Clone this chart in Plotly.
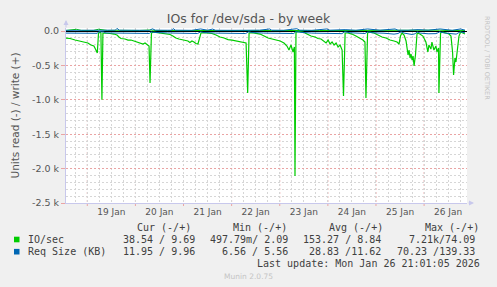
import pandas as pd
import plotly.graph_objects as go

# ---------------- data (hours relative to 19 Jan 2026 00:00) ----------------
base_time = "2026-01-19 00:00"
range_hours = [-10.62, 189.4]

io_read_h = [-10.6,-8.6,-6.1,-3.6,-1.6,0.3,1.8,3.3,4.3,5.0,5.6,6.3,6.8,7.3,7.8,9.3,11.3,13.3,14.8,15.8,
             16.8,18.8,20.3,21.8,23.3,24.8,26.3,27.8,28.8,29.8,30.8,31.3,32.0,33.3,35.3,37.3,39.3,41.3,42.7,44.2,
             45.7,47.2,48.7,50.2,51.2,52.2,53.2,54.2,55.2,56.0,56.7,58.2,60.2,62.2,64.2,66.2,68.2,70.2,72.2,74.2,
             76.2,77.7,79.2,80.0,80.7,82.2,84.2,86.2,88.2,90.2,92.2,94.2,96.2,98.1,99.6,100.6,101.6,102.6,103.3,103.6,
             104.1,105.6,107.6,109.6,111.6,113.6,115.1,116.6,118.1,119.1,120.1,121.1,122.1,123.1,124.1,125.1,126.1,127.1,127.8,128.6,
             130.0,132.0,134.0,136.0,137.5,138.5,139.0,139.8,141.0,143.0,145.0,147.0,149.0,151.0,153.0,154.5,155.5,156.2,157.0,158.0,
             159.0,159.5,160.0,160.5,161.0,161.5,162.0,162.5,163.0,163.7,164.5,165.9,167.4,168.9,169.4,169.9,170.4,171.4,171.9,172.9,
             173.9,174.4,175.2,175.4,176.2,177.4,178.9,180.4,181.4,182.2,182.7,183.4,183.9,184.4,185.4,186.2,187.4,188.4]
io_read = [102,109,131,145,167,174,203,218,276,320,29,15,29,1000,29,29,36,44,58,87,
           109,116,131,131,145,160,174,189,174,203,218,756,29,15,22,29,36,51,73,102,
           116,124,138,145,167,145,160,182,189,102,29,22,29,36,58,87,102,124,131,145,
           153,160,174,900,29,22,29,44,73,102,116,131,145,174,218,276,203,305,232,2108,
           15,7,15,44,73,87,109,116,145,174,131,189,160,203,174,232,203,276,945,29,
           29,44,73,102,131,160,974,29,15,29,58,87,102,131,145,160,189,73,29,58,
           145,247,349,276,392,334,422,363,509,349,29,44,73,160,218,305,203,262,160,276,
           218,305,247,900,29,15,29,44,73,305,640,392,451,349,73,15,29,44]

io_write_h = [-10.6,-8.0,-5.5,-3.0,0.0,3.0,5.6,7.5,10.0,14.8,20.0,26.0,31.8,33.0,40.0,47.0,52.0,56.5,60.0,
              66.0,72.0,78.0,80.6,86.0,92.0,98.0,104.1,110.0,116.0,122.0,128.6,134.0,139.8,146.0,152.0,
              156.6,160.0,164.5,170.0,175.8,180.0,186.2,188.4]
io_write = [8,22,25,9,7,8,26,20,8,10,7,8,15,9,7,8,7,14,9,
            7,8,7,12,8,7,9,14,8,7,8,12,8,11,7,8,
            12,9,12,9,12,8,14,9]

rs_read_h = [-10.6,-6.0,-2.0,2.0,5.0,5.6,7.0,8.0,9.3,14.8,20.0,26.0,31.0,31.8,33.0,40.0,47.0,52.0,55.0,56.5,
             58.0,64.0,70.0,76.0,79.0,80.5,82.0,88.0,95.0,100.0,103.0,104.0,106.0,112.0,118.0,124.0,127.0,128.5,131.0,136.0,
             138.5,139.8,142.0,148.0,151.0,153.0,155.0,156.5,158.0,160.0,162.0,163.5,164.5,166.0,170.0,174.0,175.8,178.0,182.0,184.0,
             186.0,188.4]
rs_read = [30,31,30,32,33,12,8,12,28,30,32,34,35,12,20,28,33,35,36,12,
           22,30,33,34,36,10,22,30,33,34,36,8,18,30,33,35,38,10,25,32,
           36,12,25,32,40,45,36,10,30,45,50,40,12,30,40,38,12,28,40,45,
           12,25]

rs_write_h = [-10.6,-4.0,2.0,8.0,14.0,14.8,16.0,22.0,31.0,32.5,34.0,42.0,42.8,44.0,52.0,56.5,60.0,62.5,64.0,
              72.0,80.5,86.0,91.0,92.0,98.0,104.5,106.0,112.0,119.5,121.0,128.6,134.0,139.8,146.0,153.5,155.0,
              160.0,165.0,170.0,176.0,182.0,186.2,188.4]
rs_write = [10,12,11,10,12,38,12,11,10,32,12,11,35,12,10,30,12,28,11,
            10,14,12,30,12,11,34,12,10,30,12,20,11,30,12,30,12,
            11,20,12,30,11,30,12]

day_labels = ["19 Jan", "20 Jan", "21 Jan", "22 Jan", "23 Jan", "24 Jan", "25 Jan", "26 Jan"]
y_tickvals = [0, -500, -1000, -1500, -2000, -2500]
y_ticktext = ["0.0", "-0.5 k", "-1.0 k", "-1.5 k", "-2.0 k", "-2.5 k"]

legend_header = ["Cur (-/+)", "Min (-/+)", "Avg (-/+)", "Max (-/+)"]
legend_names = ["IO/sec", "Req Size (KB)"]
legend_values = [["38.54 / 9.69", "497.79m/ 2.09", "153.27 / 8.84", "7.21k/74.09"],
                 ["11.95 / 9.96", "6.56 / 5.56", "28.83 /11.62", "70.23 /139.33"]]
last_update = "Last update: Mon Jan 26 21:01:05 2026"
title_text = "IOs for /dev/sda - by week"

# ---------------- helpers ----------------
t0 = pd.Timestamp(base_time)
def to_time(hours):
    return [t0 + pd.Timedelta(hours=h) for h in hours]

GREEN = "#00CC00"
BLUE = "#0066B3"
W, H = 497, 287
ML, MR, MT, MB = 66, 30, 28, 84
PW, PH = W - ML - MR, H - MT - MB
def px(x):
    return (x - ML) / PW
def py(y):
    return (H - MB - y) / PH

fig = go.Figure()
fig.add_trace(go.Scatter(x=to_time(io_write_h), y=io_write, mode="lines",
                         line=dict(color=GREEN, width=1), hoverinfo="skip"))
fig.add_trace(go.Scatter(x=to_time(rs_write_h), y=rs_write, mode="lines",
                         line=dict(color=BLUE, width=1), hoverinfo="skip"))
fig.add_trace(go.Scatter(x=to_time(io_read_h), y=[-v for v in io_read], mode="lines",
                         line=dict(color=GREEN, width=1.2), hoverinfo="skip"))
fig.add_trace(go.Scatter(x=to_time(rs_read_h), y=[-v for v in rs_read], mode="lines",
                         line=dict(color=BLUE, width=1), hoverinfo="skip"))

noon_ticks = [t0 + pd.Timedelta(hours=12 + 24 * i) for i in range(len(day_labels))]
midnights = [t0 + pd.Timedelta(hours=24 * i) for i in range(len(day_labels))]

AXC = "#c8c8ec"
TICKC = "#555555"
fig.update_layout(
    width=W, height=H, margin=dict(l=ML, r=MR, t=MT, b=MB),
    paper_bgcolor="#F0F0F0", plot_bgcolor="white", showlegend=False,
    font=dict(family="DejaVu Sans", color=TICKC),
    title=dict(text=title_text, x=0.5, xanchor="center", y=1 - 19 / H, yanchor="middle",
               font=dict(size=12.5, color="#555555", family="DejaVu Sans")),
    xaxis=dict(type="date", range=to_time(range_hours), tickmode="array",
               tickvals=noon_ticks, ticktext=day_labels, showgrid=False, zeroline=False,
               ticks="", tickfont=dict(size=9, color=TICKC), showline=True, linecolor=AXC, linewidth=1,
               minor=dict(tickmode="linear", tick0=base_time, dtick=6 * 3600 * 1000, showgrid=True,
                          gridcolor="#d6d6d6", griddash="2px,2px", gridwidth=1, ticks="")),
    yaxis=dict(range=[-2500, 44], tickmode="array", tickvals=y_tickvals, ticktext=y_ticktext,
               showgrid=True, gridcolor="#eaa4a4", griddash="2px,2px", gridwidth=1,
               zeroline=True, zerolinecolor="#000000", zerolinewidth=1,
               ticks="outside", ticklen=4, tickcolor="#eaa4a4",
               tickfont=dict(size=9.5, color=TICKC), showline=True, linecolor=AXC, linewidth=1,
               title=dict(text="Units read (-) / write (+)", font=dict(size=10.5, color=TICKC), standoff=10),
               minor=dict(tickmode="linear", tick0=0, dtick=100, showgrid=True,
                          gridcolor="#d6d6d6", griddash="2px,2px", gridwidth=1, ticks="")),
)

shapes = []
for m in midnights:
    shapes.append(dict(type="line", xref="x", yref="paper", x0=m, x1=m, y0=-3 / PH, y1=1,
                       line=dict(color="#eaa4a4", width=1, dash="2px,2px"), layer="between"))
# legend colour squares
for i, c in enumerate([GREEN, BLUE]):
    yc = [239.5, 251.7][i]
    shapes.append(dict(type="rect", xref="paper", yref="paper", x0=px(14), x1=px(19.5),
                       y0=py(yc + 2.8), y1=py(yc - 2.8), fillcolor=c, line=dict(width=0)))
fig.update_layout(shapes=shapes)

ann = []
MONO = "DejaVu Sans Mono"
hdr_x = [135, 231, 327, 423]
for t, x in zip(legend_header, hdr_x):
    ann.append(dict(text=t, x=px(x), y=py(227.7), xanchor="left", yanchor="middle"))
row_y = [239.5, 251.7]
right_x = [197, 290, 383, 477]
for r in range(2):
    ann.append(dict(text=legend_names[r], x=px(26), y=py(row_y[r]), xanchor="left", yanchor="middle"))
    for c in range(4):
        ann.append(dict(text=legend_values[r][c].replace(" ", "&nbsp;"), x=px(right_x[c]), y=py(row_y[r]),
                        xanchor="right", yanchor="middle"))
ann.append(dict(text=last_update, x=px(482), y=py(263.7), xanchor="right", yanchor="middle"))
for a in ann:
    a.update(xref="paper", yref="paper", showarrow=False,
             font=dict(family=MONO, size=10, color="#404040"))
ann.append(dict(text="Munin 2.0.75", x=px(248), y=py(276.3), xref="paper", yref="paper",
                showarrow=False, xanchor="center", yanchor="middle",
                font=dict(family="DejaVu Sans", size=7.5, color="#c4c4c4")))
ann.append(dict(text="RRDTOOL / TOBI OETIKER", x=px(487), y=py(58), xref="paper", yref="paper",
                showarrow=False, xanchor="center", yanchor="middle", textangle=90,
                font=dict(family="DejaVu Sans", size=6.5, color="#c4c4c4")))
# axis arrows
ann.append(dict(text="", x=0, y=py(20), xref="paper", yref="paper", ax=0, ay=9,
                showarrow=True, arrowhead=2, arrowsize=1, arrowwidth=1, arrowcolor=AXC))
ann.append(dict(text="", x=px(474), y=0, xref="paper", yref="paper", ax=-7, ay=0,
                showarrow=True, arrowhead=2, arrowsize=1, arrowwidth=1, arrowcolor=AXC))
fig.update_layout(annotations=ann)

fig.write_html("out.html")
